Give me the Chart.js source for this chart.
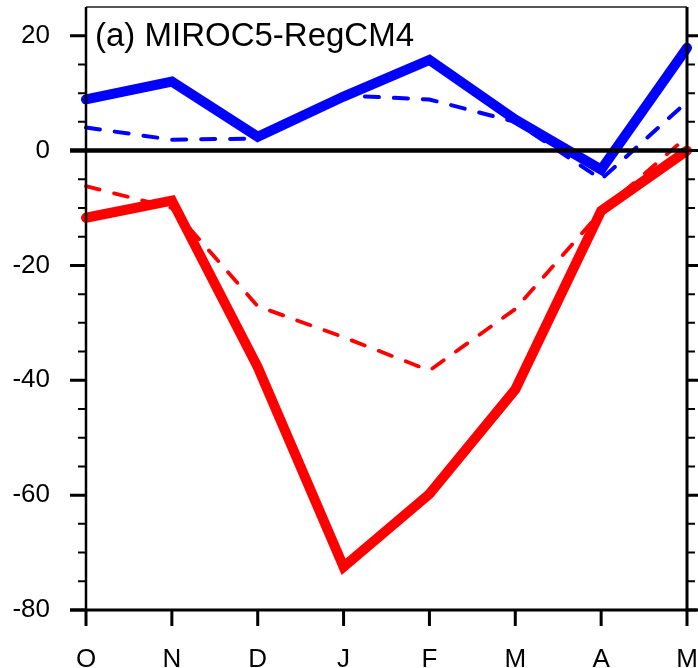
<!DOCTYPE html>
<html>
<head>
<meta charset="utf-8">
<script src="https://cdn.jsdelivr.net/npm/chart.js@4/dist/chart.umd.min.js"></script>
<style>
  body { margin: 0; background: #fff; }
  canvas { display: block; }
</style>
</head>
<body>
<canvas id="modelChart" width="698" height="668"></canvas>
<script>
// months Oct -> May
var months = ['O', 'N', 'D', 'J', 'F', 'M', 'A', 'M'];
var blueSolid = [8.9, 12.0, 2.4, 9.4, 15.8, 5.4, -3.3, 17.9];
var blueDashed = [4.0, 1.9, 2.1, 9.6, 8.9, 5.0, -5.0, 8.5];
var redSolid = [-11.7, -8.7, -37.7, -72.5, -59.8, -41.6, -10.5, 0.0];
var redDashed = [-6.2, -10.0, -27.1, -32.5, -38.3, -27.6, -10.6, 2.4];
var yMin = -80, yMax = 25;
var panelTitle = '(a) MIROC5-RegCM4';

var labelFont = { family: 'Liberation Sans', size: 26 };

// no extra padding around the scales, chart area is fixed by afterFit
function noPad(scale) {
    scale.paddingLeft = 0;
    scale.paddingRight = 0;
    scale.paddingTop = 0;
    scale.paddingBottom = 0;
}

// frame, ticks, zero line and title
var framePlugin = {
    id: 'frame',
    afterDraw: function(chart) {
        var ctx = chart.ctx;
        var a = chart.chartArea;
        var ys = chart.scales.y;
        var xs = chart.scales.x;
        ctx.save();
        ctx.strokeStyle = '#000';
        ctx.lineCap = 'butt';

        // y ticks, both sides
        for (var v = yMin; v <= 20; v += 5) {
            var py = ys.getPixelForValue(v);
            var major = (v % 20 === 0);
            ctx.lineWidth = major ? 3 : 2;
            var len = major ? 16 : 8;
            ctx.beginPath();
            ctx.moveTo(a.left - len, py);
            ctx.lineTo(a.left, py);
            ctx.moveTo(a.right, py);
            ctx.lineTo(a.right + len, py);
            ctx.stroke();
        }
        // x ticks
        ctx.lineWidth = 3;
        for (var i = 0; i < months.length; i++) {
            var px = xs.getPixelForValue(i);
            ctx.beginPath();
            ctx.moveTo(px, a.bottom);
            ctx.lineTo(px, a.bottom + 16);
            ctx.stroke();
        }

        // borders
        ctx.lineWidth = 2;
        ctx.strokeStyle = '#555';
        ctx.beginPath();
        ctx.moveTo(a.left, a.top);
        ctx.lineTo(a.right, a.top);
        ctx.stroke();
        ctx.strokeStyle = '#000';
        ctx.lineWidth = 2.5;
        ctx.beginPath();
        ctx.moveTo(a.left, a.top);
        ctx.lineTo(a.left, a.bottom);
        ctx.stroke();
        ctx.lineWidth = 3;
        ctx.beginPath();
        ctx.moveTo(a.right, a.top);
        ctx.lineTo(a.right, a.bottom + 1.5);
        ctx.moveTo(a.left - 16, a.bottom);
        ctx.lineTo(a.right + 10, a.bottom);
        ctx.stroke();

        // zero line
        var y0 = ys.getPixelForValue(0);
        ctx.lineWidth = 4.5;
        ctx.beginPath();
        ctx.moveTo(a.left - 16, y0);
        ctx.lineTo(a.right + 1.5, y0);
        ctx.stroke();

        // panel title
        ctx.fillStyle = '#000';
        ctx.font = '33px "Liberation Sans"';
        ctx.textBaseline = 'alphabetic';
        ctx.textAlign = 'left';
        ctx.fillText(panelTitle, a.left + 9, 46);
        ctx.restore();
    }
};

var ctx = document.getElementById('modelChart').getContext('2d');
var modelChart = new Chart(ctx, {
    type: 'line',
    data: {
        labels: months,
        datasets: [{
            data: blueSolid,
            borderColor: '#0000ff',
            borderWidth: 10,
            pointRadius: 0,
            borderCapStyle: 'round',
            order: 4
        }, {
            data: blueDashed,
            borderColor: '#0000ff',
            borderWidth: 4,
            borderDash: [14, 15],
            borderCapStyle: 'round',
            pointRadius: 0,
            order: 3
        }, {
            data: redSolid,
            borderColor: '#ff0000',
            borderWidth: 10,
            pointRadius: 0,
            borderCapStyle: 'round',
            order: 2
        }, {
            data: redDashed,
            borderColor: '#ff0000',
            borderWidth: 3.8,
            borderDash: [14, 15],
            borderCapStyle: 'round',
            pointRadius: 0,
            order: 1
        }]
    },
    options: {
        responsive: false,
        animation: false,
        tension: 0,
        layout: { padding: { top: 7, left: 0, right: 0, bottom: 0 } },
        plugins: {
            legend: { display: false },
            tooltip: { enabled: false }
        },
        scales: {
            x: {
                type: 'category',
                offset: false,
                grid: { display: false, drawTicks: false },
                border: { display: false },
                ticks: {
                    color: '#000',
                    font: labelFont,
                    padding: 34,
                    maxRotation: 0,
                    autoSkip: false
                },
                afterFit: function(scale) { scale.height = 58; noPad(scale); }
            },
            y: {
                min: yMin,
                max: yMax,
                grid: { display: false, drawTicks: false },
                border: { display: false },
                ticks: {
                    stepSize: 20,
                    includeBounds: false,
                    color: '#000',
                    font: labelFont,
                    padding: 36
                },
                afterFit: function(scale) { scale.width = 86; noPad(scale); }
            },
            y2: {
                position: 'right',
                min: yMin,
                max: yMax,
                grid: { display: false, drawTicks: false },
                border: { display: false },
                ticks: { display: false },
                afterFit: function(scale) { scale.width = 11; noPad(scale); }
            }
        }
    },
    plugins: [framePlugin]
});
</script>
</body>
</html>
